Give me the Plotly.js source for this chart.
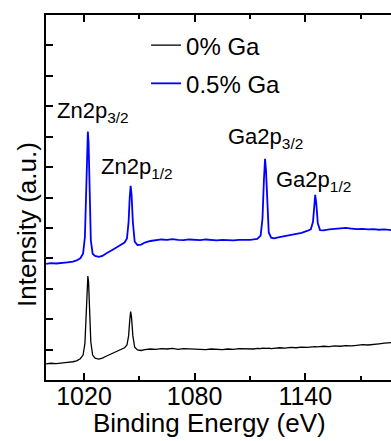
<!DOCTYPE html>
<html>
<head>
<meta charset="utf-8">
<script src="https://cdn.plot.ly/plotly-3.0.1.min.js"></script>
<style>html,body{margin:0;padding:0;background:#fff;}#chart{width:391px;height:441px;}</style>
</head>
<body>
<div id="chart"></div>
<script>
// Binding energy grid (eV)
const bindingEnergy = [999.5,1002,1005,1008,1011,1014,1016,1018,1019.5,1020.5,1021.2,1021.7,1022.1,1022.5,1023.0,1023.7,1024.7,1026,1028,1030,1032,1034,1036,1038,1040,1042,1043.3,1044.2,1044.8,1045.3,1045.8,1046.5,1047.5,1049,1051,1053,1056,1059,1062,1065,1068,1071,1074,1077,1080,1083,1086,1089,1092,1095,1098,1101,1104,1107,1110,1112,1114,1115.8,1116.8,1117.6,1118.2,1118.7,1119.3,1120.2,1121.5,1123,1126,1129,1132,1135,1138,1141,1143,1144.2,1144.9,1145.4,1146,1146.8,1148,1150,1153,1156,1159,1162,1165,1168,1171,1174,1177,1180,1183,1186.5];
// Intensity (a.u.), 0% Ga
const intensity0Ga = [0.53,0.55,0.54,0.57,0.58,0.60,0.63,0.70,0.82,1.2,2.2,3.1,3.42,3.2,2.3,1.25,0.82,0.72,0.69,0.72,0.78,0.84,0.88,0.95,1.00,1.06,1.15,1.45,1.95,2.25,2.05,1.45,1.08,0.99,0.97,1.00,1.02,1.01,1.03,1.02,1.04,1.01,1.03,1.02,1.01,1.02,1.00,1.02,1.01,1.00,1.02,1.01,1.03,1.02,1.03,1.02,1.04,1.03,1.05,1.04,1.05,1.03,1.04,1.05,1.03,1.04,1.06,1.05,1.07,1.06,1.08,1.07,1.09,1.08,1.09,1.10,1.09,1.10,1.10,1.11,1.10,1.12,1.11,1.13,1.12,1.14,1.16,1.15,1.18,1.19,1.21,1.23];
// Intensity (a.u.), 0.5% Ga
const intensity05Ga = [3.82,3.84,3.83,3.86,3.87,3.89,3.93,4.00,4.15,4.7,6.2,7.6,8.17,7.8,6.4,4.6,4.15,4.08,4.05,4.08,4.16,4.24,4.30,4.37,4.44,4.52,4.65,5.2,6.0,6.38,6.1,5.2,4.55,4.44,4.45,4.52,4.57,4.60,4.62,4.61,4.63,4.61,4.60,4.62,4.61,4.60,4.62,4.60,4.59,4.61,4.60,4.59,4.61,4.60,4.61,4.62,4.64,4.75,5.3,6.6,7.27,6.9,5.8,4.85,4.68,4.66,4.70,4.73,4.77,4.80,4.84,4.90,4.95,5.2,5.8,6.09,5.8,5.15,4.93,4.92,4.95,4.97,4.99,5.00,4.98,4.96,4.97,4.95,4.96,4.94,4.95,4.93];
// Peak labels
const peakLabels = ["Zn2p<sub>3/2</sub>","Zn2p<sub>1/2</sub>","Ga2p<sub>3/2</sub>","Ga2p<sub>1/2</sub>"];
const peakLabelX = [1024.9,1048.8,1118.7,1144.2];
const peakLabelY = [8.8,6.97,7.96,6.55];
const seriesNames = ["0% Ga","0.5% Ga"];
const xTickVals = [1020,1080,1140];
const xMinorTickVals = [1050,1110,1170];
const xTitle = "Binding Energy (eV)";
const yTitle = "Intensity (a.u.)";

const FONT = "Liberation Sans, Arial, sans-serif";
const traces = [
  {x: bindingEnergy, y: intensity0Ga, name: seriesNames[0], legendgroup: "a", type: "scatter", mode: "lines", line: {color: "#000000", width: 1.3}},
  {x: bindingEnergy, y: intensity05Ga, name: seriesNames[1], legendgroup: "b", type: "scatter", mode: "lines", line: {color: "#0000ff", width: 1.8}}
];
const annotations = peakLabels.map((t, i) => ({
  x: peakLabelX[i], y: peakLabelY[i], xref: "x", yref: "y", text: t, showarrow: false,
  xanchor: "center", yanchor: "middle", font: {family: FONT, size: 22, color: "#000"}
}));
annotations.push({
  x: 0.475, y: -0.117, xref: "paper", yref: "paper", text: xTitle, showarrow: false,
  xanchor: "center", yanchor: "middle", font: {family: FONT, size: 26, color: "#000"}
});
annotations.push({
  x: -0.055, y: 0.425, xref: "paper", yref: "paper", text: yTitle, showarrow: false, textangle: -90,
  xanchor: "center", yanchor: "middle", font: {family: FONT, size: 26, color: "#000"}
});
const layout = {
  width: 391, height: 441,
  margin: {l: 46, r: 0, t: 15, b: 61},
  paper_bgcolor: "#fff", plot_bgcolor: "#fff",
  font: {family: FONT, color: "#000"},
  showlegend: true,
  legend: {x: 0.29, y: 0.978, xanchor: "left", yanchor: "top", bgcolor: "rgba(0,0,0,0)", borderwidth: 0,
           traceorder: "grouped", tracegroupgap: 4,
           font: {family: FONT, size: 24, color: "#000"}, itemwidth: 30},
  xaxis: {
    range: [999.4, 1186.5], tickmode: "array", tickvals: xTickVals, ticks: "inside", ticklen: 7, tickwidth: 2,
    tickcolor: "#000", showline: true, linecolor: "#000", linewidth: 2, mirror: "ticks", showgrid: false, zeroline: false,
    tickfont: {family: FONT, size: 25, color: "#000"}, ticklabelstandoff: -7,
    minor: {tickmode: "array", tickvals: xMinorTickVals, ticks: "inside", ticklen: 4, tickwidth: 2, tickcolor: "#000", showgrid: false}
  },
  yaxis: {
    range: [0, 12], dtick: 1, tick0: 0, ticks: "inside", ticklen: 7, tickwidth: 2, tickcolor: "#000",
    showticklabels: false, showline: true, linecolor: "#000", linewidth: 2, mirror: false, showgrid: false, zeroline: false
  },
  annotations: annotations
};
Plotly.newPlot("chart", traces, layout, {displayModeBar: false, staticPlot: true});
</script>
</body>
</html>
